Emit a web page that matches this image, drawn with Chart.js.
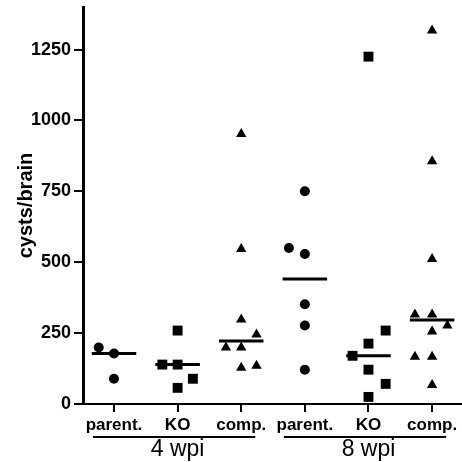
<!DOCTYPE html>
<html>
<head>
<meta charset="utf-8">
<script src="https://cdn.jsdelivr.net/npm/chart.js@4/dist/chart.umd.min.js"></script>
<style>
  html, body { margin: 0; padding: 0; background: #fff; }
  #wrap { width: 462px; height: 462px; }
</style>
</head>
<body>
<div id="wrap"><canvas id="chart"></canvas></div>
<script>
// Data
const categories = ['parent.', 'KO', 'comp.', 'parent.', 'KO', 'comp.'];
const timepoints = ['4 wpi', '8 wpi'];
const yTicks = [0, 250, 500, 750, 1000, 1250];

// cysts/brain per animal, with the horizontal scatter offset used in the plot
const parent4 = [199, 178, 89];
const parent4Dx = [-0.24, 0, 0];
const ko4 = [139, 139, 259, 89, 57];
const ko4Dx = [-0.24, 0, 0, 0.24, 0];
const comp4 = [952, 547, 298, 245, 199, 199, 135, 128];
const comp4Dx = [0, 0, 0, 0.24, -0.24, 0, 0.24, 0];
const parent8 = [750, 550, 529, 352, 277, 121];
const parent8Dx = [0, -0.25, 0, 0, 0, 0];
const ko8 = [1225, 259, 213, 170, 121, 71, 25];
const ko8Dx = [0, 0.27, 0, -0.25, 0, 0.27, 0];
const comp8 = [1317, 856, 511, 316, 316, 277, 256, 167, 167, 67];
const comp8Dx = [0, 0, 0, -0.27, 0, 0.24, 0, -0.27, 0, 0];

const groups = [
    { values: parent4, dx: parent4Dx, style: 'circle', r: 5 },
    { values: ko4, dx: ko4Dx, style: 'rect', r: 7 },
    { values: comp4, dx: comp4Dx, style: 'triangle', r: 6 },
    { values: parent8, dx: parent8Dx, style: 'circle', r: 5 },
    { values: ko8, dx: ko8Dx, style: 'rect', r: 7 },
    { values: comp8, dx: comp8Dx, style: 'triangle', r: 6 }
];

function median(arr) {
    const s = arr.slice().sort((a, b) => a - b);
    const m = Math.floor(s.length / 2);
    return s.length % 2 ? s[m] : (s[m - 1] + s[m]) / 2;
}

const datasets = groups.map((g, i) => ({
    data: g.values.map((v, j) => ({ x: i + g.dx[j], y: v })),
    pointStyle: g.style,
    pointRadius: g.r,
    pointHoverRadius: g.r,
    backgroundColor: '#000',
    borderColor: '#000',
    borderWidth: 0
}));

// median bars
const medianData = [];
groups.forEach((g, i) => {
    const m = median(g.values);
    medianData.push({ x: i - 0.35, y: m }, { x: i + 0.35, y: m }, { x: i, y: null });
});
datasets.push({
    data: medianData,
    showLine: true,
    spanGaps: false,
    borderColor: '#000',
    borderWidth: 3,
    pointRadius: 0,
    pointHoverRadius: 0
});

const FONT = "'Liberation Sans', Arial, Helvetica, sans-serif";

// timepoint underline + label below the category labels
const groupLabels = {
    id: 'groupLabels',
    afterDraw(chart) {
        const ctx = chart.ctx;
        const xs = chart.scales.x;
        const y0 = xs.top;
        ctx.save();
        // x axis runs on to the edge of the figure
        ctx.strokeStyle = '#000';
        ctx.lineWidth = 2;
        ctx.beginPath();
        ctx.moveTo(xs.right, Math.round(y0));
        ctx.lineTo(chart.width, Math.round(y0));
        ctx.stroke();
        timepoints.forEach((t, k) => {
            const first = k * 3, last = k * 3 + 2;
            const x1 = xs.getPixelForValue(first - 0.33);
            const x2 = xs.getPixelForValue(last + 0.22);
            ctx.beginPath();
            ctx.moveTo(x1, y0 + 33);
            ctx.lineTo(x2, y0 + 33);
            ctx.stroke();
            ctx.fillStyle = '#000';
            ctx.font = '23px ' + FONT;
            ctx.textAlign = 'center';
            ctx.textBaseline = 'middle';
            ctx.fillText(t, xs.getPixelForValue(first + 1), y0 + 46);
        });
        ctx.restore();
    }
};

new Chart(document.getElementById('chart'), {
    type: 'scatter',
    data: { datasets: datasets },
    options: {
        responsive: true,
        maintainAspectRatio: false,
        animation: false,
        layout: { padding: { top: 7, right: 0, left: 0, bottom: 0 } },
        plugins: { legend: { display: false }, tooltip: { enabled: false } },
        scales: {
            x: {
                type: 'linear',
                min: -0.487,
                max: 5.36,
                afterBuildTicks: (s) => { s.ticks = categories.map((c, i) => ({ value: i })); },
                afterFit: (s) => { s.height = 58; s.paddingLeft = 0; s.paddingRight = 0; },
                grid: { display: true, drawOnChartArea: false, drawTicks: true, tickLength: 8, color: '#000', lineWidth: 2 },
                border: { display: true, color: '#000', width: 2 },
                ticks: {
                    color: '#000',
                    padding: 3,
                    maxRotation: 0,
                    autoSkip: false,
                    font: { family: FONT, size: 17, weight: 'bold' },
                    callback: (v) => categories[v]
                }
            },
            y: {
                min: 0,
                max: 1400,
                afterBuildTicks: (s) => { s.ticks = yTicks.map(v => ({ value: v })); },
                afterFit: (s) => { s.width = 83; s.paddingTop = 0; s.paddingBottom = 0; },
                grid: { display: true, drawOnChartArea: false, drawTicks: true, tickLength: 9, color: '#000', lineWidth: 2 },
                border: { display: true, color: '#000', width: 3 },
                ticks: {
                    color: '#000',
                    padding: 3,
                    font: { family: FONT, size: 18, weight: 'bold' },
                    callback: (v) => String(v)
                },
                title: {
                    display: true,
                    text: 'cysts/brain',
                    color: '#000',
                    padding: { top: 14, bottom: 0 },
                    font: { family: FONT, size: 20, weight: 'bold' }
                }
            }
        }
    },
    plugins: [groupLabels]
});
</script>
</body>
</html>
